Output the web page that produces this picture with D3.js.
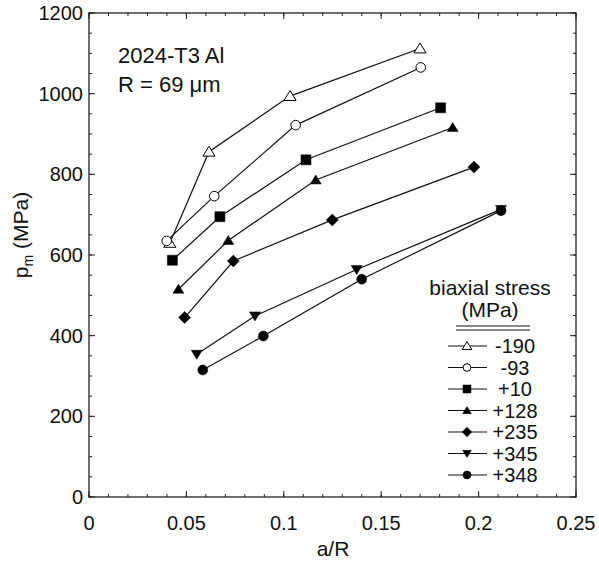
<!DOCTYPE html>
<html>
<head>
<meta charset="utf-8">
<script src="https://cdn.jsdelivr.net/npm/d3@7"></script>
<style>
  html, body { margin: 0; padding: 0; background: #fff; }
  svg { display: block; }
  text { font-family: "Liberation Sans", Arial, Helvetica, sans-serif; fill: #111; }
</style>
</head>
<body>
<svg id="chart" width="599" height="563"></svg>
<script>
// ---- data ----
const seriesLabels = ["-190", "-93", "+10", "+128", "+235", "+345", "+348"];
const seriesMarkers = ["triangleOpen", "circleOpen", "square", "triangle", "diamond", "triangleDown", "circle"];
const s_m190 = [[0.0415, 630], [0.0616, 856], [0.1032, 994], [0.1699, 1112]];
const s_m93  = [[0.0399, 635], [0.0643, 746], [0.1061, 922], [0.1703, 1065]];
const s_p10  = [[0.0428, 587], [0.0672, 695], [0.1114, 836], [0.1805, 965]];
const s_p128 = [[0.0459, 515], [0.0715, 636], [0.1164, 786], [0.1867, 916]];
const s_p235 = [[0.0491, 445], [0.0741, 585], [0.1249, 687], [0.1976, 818]];
const s_p345 = [[0.0553, 354], [0.0852, 449], [0.1374, 564], [0.2115, 713]];
const s_p348 = [[0.0584, 315], [0.0895, 399], [0.1400, 540], [0.2115, 710]];
const seriesValues = [s_m190, s_m93, s_p10, s_p128, s_p235, s_p345, s_p348];
const xTicks = [0, 0.05, 0.1, 0.15, 0.2, 0.25];
const xTickLabels = ["0", "0.05", "0.1", "0.15", "0.2", "0.25"];
const yTicks = [0, 200, 400, 600, 800, 1000, 1200];
const xMinor = d3.range(0, 0.2501, 0.01);
const yMinor = d3.range(0, 1201, 50);

// ---- layout ----
const svg = d3.select("#chart");
const L = 89, R = 576, T = 13, B = 497;
const x = d3.scaleLinear().domain([0, 0.25]).range([L, R]);
const y = d3.scaleLinear().domain([0, 1200]).range([B, T]);
const stroke = "#222";

// minor + major ticks, inward, all four sides
const g = svg.append("g");
function tickLines(vals, len, isX) {
  vals.forEach(v => {
    if (isX) {
      const px = x(v);
      g.append("line").attr("x1", px).attr("x2", px).attr("y1", B).attr("y2", B - len).attr("stroke", stroke).attr("stroke-width", 1);
      g.append("line").attr("x1", px).attr("x2", px).attr("y1", T).attr("y2", T + len).attr("stroke", stroke).attr("stroke-width", 1);
    } else {
      const py = y(v);
      g.append("line").attr("x1", L).attr("x2", L + len).attr("y1", py).attr("y2", py).attr("stroke", stroke).attr("stroke-width", 1);
      g.append("line").attr("x1", R).attr("x2", R - len).attr("y1", py).attr("y2", py).attr("stroke", stroke).attr("stroke-width", 1);
    }
  });
}
tickLines(xMinor, 3, true);
tickLines(xTicks, 6, true);
tickLines(yMinor, 3, false);
tickLines(yTicks, 6, false);

// frame
svg.append("rect").attr("x", L).attr("y", T).attr("width", R - L).attr("height", B - T)
  .attr("fill", "none").attr("stroke", stroke).attr("stroke-width", 1.3);

// tick labels
svg.selectAll(".xl").data(xTicks).enter().append("text")
  .attr("x", d => x(d)).attr("y", 530).attr("text-anchor", "middle")
  .attr("font-size", 20).text((d, i) => xTickLabels[i]);
svg.selectAll(".yl").data(yTicks).enter().append("text")
  .attr("x", 83).attr("y", d => y(d) + 7).attr("text-anchor", "end")
  .attr("font-size", 20).text(d => d);

// axis titles
svg.append("text").attr("x", 333).attr("y", 556).attr("text-anchor", "middle")
  .attr("font-size", 21).text("a/R");
const yt = svg.append("text").attr("transform", "translate(28,235) rotate(-90)")
  .attr("text-anchor", "middle").attr("font-size", 21);
yt.append("tspan").text("p");
yt.append("tspan").attr("font-size", 14).attr("dy", 5).text("m");
yt.append("tspan").attr("dy", -5).text(" (MPa)");

// annotation
svg.append("text").attr("x", 118).attr("y", 63).attr("font-size", 22).text("2024-T3 Al");
svg.append("text").attr("x", 118).attr("y", 92).attr("font-size", 22).text("R = 69 \u03BCm");

// marker shapes
function markerPath(type, s) {
  switch (type) {
    case "triangleOpen":
    case "triangle":
      return `M0,${-s} L${s * 1.1},${s * 0.8} L${-s * 1.1},${s * 0.8} Z`;
    case "triangleDown":
      return `M0,${s} L${s * 1.1},${-s * 0.8} L${-s * 1.1},${-s * 0.8} Z`;
    case "square":
      return `M${-s},${-s} H${s} V${s} H${-s} Z`;
    case "diamond":
      return `M0,${-s * 1.2} L${s * 1.2},0 L0,${s * 1.2} L${-s * 1.2},0 Z`;
    default: {
      const p = d3.path(); p.arc(0, 0, s, 0, 2 * Math.PI); p.closePath(); return p.toString();
    }
  }
}
const isOpen = t => t === "triangleOpen" || t === "circleOpen";
const markerSize = { triangleOpen: 5.5, circleOpen: 4.8, square: 5, triangle: 5, diamond: 5, triangleDown: 5, circle: 5 };

// series lines + markers
const line = d3.line().x(d => x(d[0])).y(d => y(d[1]));
seriesValues.forEach((vals, i) => {
  svg.append("path").attr("d", line(vals)).attr("fill", "none").attr("stroke", "#111").attr("stroke-width", 1.2);
});
seriesValues.forEach((vals, i) => {
  const t = seriesMarkers[i];
  svg.selectAll(null).data(vals).enter().append("path")
    .attr("transform", d => `translate(${x(d[0])},${y(d[1])})`)
    .attr("d", markerPath(t, markerSize[t]))
    .attr("fill", isOpen(t) ? "#fff" : "#000")
    .attr("stroke", "#000").attr("stroke-width", isOpen(t) ? 1 : 0.5);
});

// legend
svg.append("text").attr("x", 490).attr("y", 295).attr("text-anchor", "middle").attr("font-size", 21).text("biaxial stress");
svg.append("text").attr("x", 490).attr("y", 317).attr("text-anchor", "middle").attr("font-size", 21).text("(MPa)");
[326, 330].forEach(yy => svg.append("line").attr("x1", 456).attr("x2", 530).attr("y1", yy).attr("y2", yy).attr("stroke", "#111").attr("stroke-width", 1));
const rowY = d3.scaleLinear().domain([0, 6]).range([346, 475]);
seriesLabels.forEach((lab, i) => {
  const yy = rowY(i);
  const t = seriesMarkers[i];
  svg.append("line").attr("x1", 448).attr("x2", 487).attr("y1", yy).attr("y2", yy).attr("stroke", "#111").attr("stroke-width", 1.2);
  svg.append("path").attr("transform", `translate(467,${yy})`).attr("d", markerPath(t, markerSize[t] * 0.8))
    .attr("fill", isOpen(t) ? "#fff" : "#000").attr("stroke", "#000").attr("stroke-width", isOpen(t) ? 1 : 0.5);
  svg.append("text").attr("x", 515).attr("y", yy + 7).attr("text-anchor", "middle").attr("font-size", 20).text(lab);
});
</script>
</body>
</html>
